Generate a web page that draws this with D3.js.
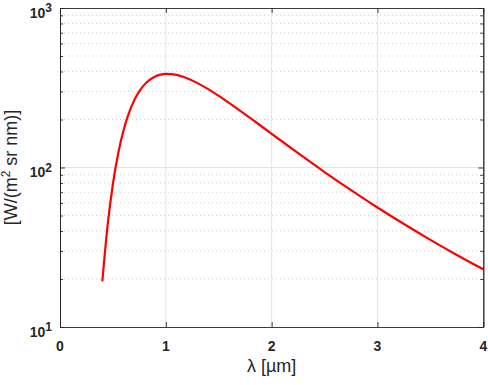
<!DOCTYPE html>
<html><head><meta charset="utf-8">
<script src="https://cdn.jsdelivr.net/npm/d3@7"></script>
<style>body{margin:0;background:#fff}svg{display:block}</style>
</head><body>
<svg id="c" width="488" height="385"></svg>
<script>
const wavelength = [0.4,0.45,0.5,0.55,0.6,0.65,0.7,0.75,0.8,0.85,0.9,0.95,1.0,1.1,1.2,1.3,1.4,1.5,1.6,1.8,2.0,2.25,2.5,2.75,3.0,3.25,3.5,3.75,4.0];
const radiance = [19.3,43.5,78.8,122.6,170.5,218.3,262.5,300.8,332.0,355.6,372.1,381.9,386,380.7,362.9,338.1,310.1,281.4,253.6,203.7,162.6,122.9,93.6,72.1,56.1,44.2,35.2,28.3,23.0];
const xTicks = [0,1,2,3,4];
const yTicks = [10,100,1000];
const yTickExp = ["1","2","3"];
const xLabel = "λ [µm]";

const svg = d3.select("#c");
const L = 60, R = 483.3, T = 8, B = 327;
const x = d3.scaleLinear().domain([0,4]).range([L,R]);
const y = d3.scaleLog().domain([10,1000]).range([B,T]);

const minor = [];
[10,100].forEach(d => { for (let k=2;k<=9;k++) minor.push(d*k); });

// minor grid
svg.append("g").selectAll("line").data(minor).join("line")
  .attr("x1",L).attr("x2",R).attr("y1",d=>y(d)).attr("y2",d=>y(d))
  .attr("stroke","#cfcfcf").attr("stroke-width",1).attr("stroke-dasharray","1,3");
// major grid
svg.append("g").selectAll("line").data(xTicks.slice(1,-1)).join("line")
  .attr("x1",d=>x(d)).attr("x2",d=>x(d)).attr("y1",T).attr("y2",B)
  .attr("stroke","#e3e3e3").attr("stroke-width",1);
svg.append("g").selectAll("line").data([100]).join("line")
  .attr("x1",L).attr("x2",R).attr("y1",d=>y(d)).attr("y2",d=>y(d))
  .attr("stroke","#e3e3e3").attr("stroke-width",1);

// curve
const pts = wavelength.map((w,i)=>[w, radiance[i]]);
svg.append("path").datum(pts)
  .attr("d", d3.line().x(d=>x(d[0])).y(d=>y(d[1])).curve(d3.curveMonotoneX))
  .attr("fill","none").attr("stroke","#ff0000").attr("stroke-width",2.2);

// axes with inward ticks
const ax = "#262626";
const gB = svg.append("g").attr("transform",`translate(0,${B})`)
  .call(d3.axisBottom(x).tickValues(xTicks).tickSizeInner(-5).tickSizeOuter(0).tickFormat(""));
const gT = svg.append("g").attr("transform",`translate(0,${T})`)
  .call(d3.axisTop(x).tickValues(xTicks).tickSizeInner(-5).tickSizeOuter(0).tickFormat(""));
const gL = svg.append("g").attr("transform",`translate(${L},0)`)
  .call(d3.axisLeft(y).tickValues(yTicks).tickSizeInner(-5).tickSizeOuter(0).tickFormat(""));
const gR = svg.append("g").attr("transform",`translate(${R},0)`)
  .call(d3.axisRight(y).tickValues(yTicks).tickSizeInner(-5).tickSizeOuter(0).tickFormat(""));
const gLm = svg.append("g").attr("transform",`translate(${L},0)`)
  .call(d3.axisLeft(y).tickValues(minor).tickSizeInner(-3).tickSizeOuter(0).tickFormat(""));
const gRm = svg.append("g").attr("transform",`translate(${R},0)`)
  .call(d3.axisRight(y).tickValues(minor).tickSizeInner(-3).tickSizeOuter(0).tickFormat(""));
[gB,gT,gL,gR,gLm,gRm].forEach(g=>{
  g.selectAll("path").attr("stroke",ax).attr("stroke-width",0.9);
  g.selectAll("line").attr("stroke",ax).attr("stroke-width",0.9);
});

// tick labels
const font = "Liberation Sans, Arial, sans-serif";
svg.append("g").selectAll("text").data(xTicks).join("text")
  .attr("x",d=>x(d)).attr("y",350.5).attr("text-anchor","middle")
  .attr("font-family",font).attr("font-weight","bold").attr("font-size",14).attr("fill","#262626")
  .text(d=>d);
const yl = svg.append("g").selectAll("text").data(yTicks).join("text")
  .attr("x",52).attr("y",d=>y(d)+9.5).attr("text-anchor","end")
  .attr("font-family",font).attr("font-weight","bold").attr("font-size",14).attr("fill","#262626");
yl.append("tspan").text("10");
yl.append("tspan").attr("dy",-5.5).attr("font-size",12).text((d,i)=>yTickExp[i]);

// axis titles
svg.append("text").attr("x",(L+R)/2).attr("y",372).attr("text-anchor","middle")
  .attr("font-family",font).attr("font-size",18).attr("fill","#262626").text(xLabel);
const yt = svg.append("text").attr("transform",`translate(17,${(T+B)/2}) rotate(-90)`)
  .attr("text-anchor","middle").attr("font-family",font).attr("font-size",18).attr("fill","#262626");
yt.append("tspan").text("[W/(m");
yt.append("tspan").attr("dy",-7).attr("font-size",12).text("2");
yt.append("tspan").attr("dy",7).text(" sr nm)]");
</script>
</body></html>
